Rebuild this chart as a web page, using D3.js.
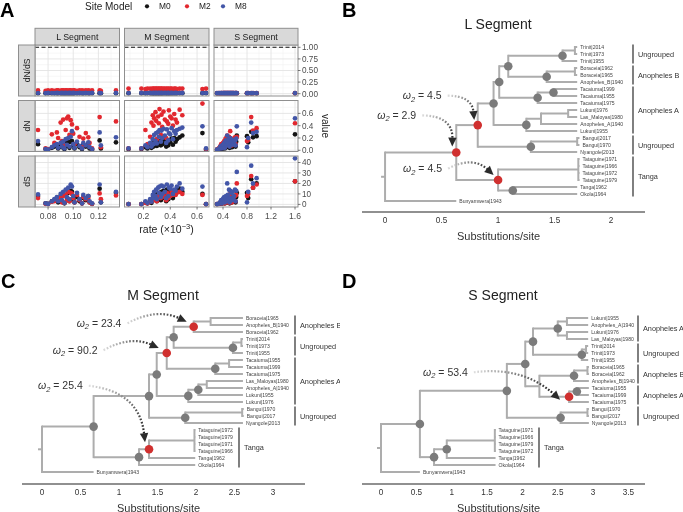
<!DOCTYPE html>
<html>
<head>
<meta charset="utf-8">
<script src="https://cdn.jsdelivr.net/npm/d3@7/dist/d3.min.js"></script>
<style>
html,body{margin:0;padding:0;background:#fff;}
svg{display:block;will-change:transform;}
text{font-family:"Liberation Sans",Arial,Helvetica,sans-serif;-webkit-font-smoothing:antialiased;}
</style>
</head>
<body>
<svg id="chart" width="683" height="512"></svg>
<script>
// ================= PANEL A DATA =================
const segments = ["L Segment", "M Segment", "S Segment"];
const measures = ["dN/dS", "dN", "dS"];
const siteModels = ["M0", "M2", "M8"];

const L_rate   = [0.072,0.078,0.080,0.083,0.085,0.087,0.088,0.090,0.091,0.092,0.093,0.094,0.095,0.096,0.097,0.098,0.099,0.100,0.101,0.103,0.105,0.107,0.108,0.110,0.112,0.113,0.115,0.121,0.122,0.134];
const L_dN_M0  = [0.10,0.02,0.01,0.04,0.06,0.08,0.03,0.09,0.05,0.11,0.02,0.12,0.07,0.13,0.04,0.14,0.15,0.08,0.03,0.10,0.05,0.02,0.09,0.06,0.11,0.03,0.01,0.16,0.03,0.13];
const L_dN_M2  = [0.33,0.03,0.02,0.26,0.12,0.29,0.20,0.45,0.15,0.50,0.08,0.33,0.52,0.55,0.25,0.49,0.42,0.27,0.10,0.36,0.22,0.05,0.19,0.28,0.21,0.12,0.03,0.54,0.05,0.47];
const L_dN_M8  = [0.15,0.02,0.01,0.05,0.08,0.10,0.04,0.12,0.06,0.14,0.03,0.18,0.09,0.20,0.06,0.22,0.31,0.10,0.04,0.14,0.07,0.03,0.12,0.08,0.13,0.05,0.02,0.29,0.08,0.21];
const L_dS_M0  = [8,1,0.5,3,4,6,2,8,3,10,1,9,6,11,3,13,12,5,2,7,3,1,6,4,8,2,0.5,15,2,11];
const L_dS_M2  = [6,0.5,0.3,2.5,3,5,4,7,2,8,1.5,9,4,12,3,11,10,6,2,9,4,1,7,5,6,2,0.5,10.5,5,8.6];
const L_dS_M8  = [9.5,1,0.4,3,5,7,3,10,4,12,1.5,14,7,16,5,19,17,8,2,11,5,1,9,6,8,3,1,19,2,12];
const L_dNdS_M0 = [0.012,0.010,0.011,0.012,0.010,0.011,0.012,0.010,0.011,0.012,0.010,0.011,0.012,0.010,0.011,0.012,0.010,0.011,0.012,0.010,0.011,0.012,0.010,0.011,0.012,0.010,0.011,0.012,0.010,0.011];
const L_dNdS_M2 = [0.07,0.06,0.07,0.07,0.06,0.07,0.07,0.06,0.07,0.07,0.06,0.07,0.07,0.06,0.07,0.07,0.06,0.07,0.07,0.06,0.07,0.07,0.06,0.07,0.07,0.06,0.07,0.07,0.06,0.07];
const L_dNdS_M8 = [0.015,0.014,0.016,0.015,0.014,0.016,0.015,0.014,0.016,0.015,0.014,0.016,0.015,0.014,0.016,0.015,0.014,0.016,0.015,0.014,0.016,0.015,0.014,0.016,0.015,0.014,0.016,0.015,0.014,0.016];

const M_rate   = [0.089,0.185,0.215,0.23,0.25,0.26,0.27,0.275,0.28,0.29,0.295,0.30,0.31,0.315,0.32,0.33,0.335,0.34,0.35,0.36,0.37,0.375,0.385,0.39,0.40,0.41,0.42,0.43,0.44,0.45,0.47,0.49,0.64,0.667];
const M_dN_M0  = [0.02,0.02,0.05,0.03,0.08,0.04,0.10,0.06,0.12,0.09,0.13,0.07,0.15,0.11,0.14,0.08,0.16,0.10,0.18,0.12,0.06,0.17,0.08,0.15,0.13,0.19,0.09,0.20,0.14,0.18,0.21,0.24,0.28,0.01];
const M_dN_M2  = [0.03,0.03,0.33,0.10,0.22,0.45,0.57,0.40,0.52,0.62,0.48,0.18,0.55,0.44,0.67,0.25,0.58,0.38,0.63,0.50,0.20,0.47,0.43,0.65,0.55,0.52,0.40,0.59,0.50,0.45,0.66,0.57,0.76,0.02];
const M_dN_M8  = [0.03,0.03,0.08,0.05,0.12,0.06,0.18,0.10,0.25,0.15,0.28,0.11,0.30,0.22,0.33,0.14,0.32,0.20,0.35,0.24,0.12,0.34,0.16,0.28,0.26,0.36,0.18,0.31,0.27,0.33,0.35,0.37,0.39,0.03];
const M_dS_M0  = [0.3,0.3,2,1,3,1.5,6,4,8,5,9,3,10,7,11,4,12,6,13,8,3,14,5,11,9,13,6,12,10,14,15,12,10,0.2];
const M_dS_M2  = [0.2,0.2,1.5,1,2.5,3,5,4,6,5,7,3,8,6,7,6,9,8,10,7,4,11,6,9,8,12,9,10,9,11,12,10,9,0.2];
const M_dS_M8  = [0.3,0.3,3,1.5,5,2.5,9,6,12,8,14,5,16,11,17,7,18,10,17,12,6,19,8,16,15,18,10,14,13,17,20,15,17,0.3];
const M_dNdS_M0 = [0.012,0.011,0.012,0.013,0.011,0.012,0.012,0.011,0.012,0.013,0.011,0.012,0.012,0.011,0.012,0.013,0.011,0.012,0.012,0.011,0.012,0.013,0.011,0.012,0.012,0.011,0.012,0.013,0.011,0.012,0.012,0.011,0.012,0.013];
const M_dNdS_M2 = [0.11,0.11,0.10,0.11,0.11,0.10,0.11,0.11,0.10,0.11,0.11,0.10,0.11,0.11,0.10,0.11,0.11,0.10,0.11,0.11,0.10,0.11,0.11,0.10,0.11,0.11,0.10,0.11,0.11,0.10,0.11,0.11,0.10,0.11];
const M_dNdS_M8 = [0.015,0.016,0.014,0.015,0.016,0.014,0.015,0.016,0.014,0.015,0.016,0.014,0.015,0.016,0.014,0.015,0.016,0.014,0.015,0.016,0.014,0.015,0.016,0.014,0.015,0.016,0.014,0.015,0.016,0.014,0.015,0.016,0.014,0.015];

const S_rate   = [0.30,0.33,0.35,0.37,0.38,0.40,0.41,0.42,0.43,0.44,0.45,0.46,0.47,0.48,0.49,0.50,0.51,0.52,0.53,0.54,0.55,0.56,0.57,0.58,0.60,0.61,0.62,0.63,0.80,0.82,0.87,0.90,0.96,1.60];
const S_dN_M0  = [0.01,0.02,0.03,0.05,0.02,0.06,0.04,0.08,0.03,0.07,0.10,0.05,0.12,0.09,0.06,0.11,0.04,0.13,0.08,0.10,0.05,0.12,0.07,0.09,0.11,0.06,0.14,0.24,0.23,0.13,0.30,0.21,0.23,0.26];
const S_dN_M2  = [0.01,0.03,0.06,0.10,0.04,0.12,0.08,0.15,0.05,0.18,0.20,0.11,0.24,0.17,0.09,0.22,0.07,0.31,0.14,0.19,0.08,0.16,0.12,0.18,0.21,0.10,0.20,0.22,0.15,0.17,0.54,0.32,0.36,0.44];
const S_dN_M8  = [0.01,0.02,0.05,0.07,0.03,0.09,0.10,0.12,0.04,0.14,0.16,0.08,0.24,0.13,0.11,0.18,0.06,0.20,0.12,0.15,0.09,0.17,0.10,0.14,0.16,0.08,0.19,0.39,0.05,0.20,0.45,0.28,0.30,0.52];
const S_dS_M0  = [0.3,0.5,1,2,0.8,3,1.5,4,1,3,5,2,6,4,2,5,1,7,3,5,2,6,3,4,6,2,7,11,11,6,24,16,20,22];
const S_dS_M2  = [0.3,0.5,1.5,3,1,2,2.5,4,1,5,4,3,8,6,2,7,1.5,10,4,6,2,5,3,7,8,3,9,20,8,10,27,16,19,22];
const S_dS_M8  = [0.3,0.6,2,4,1,5,6,7,2,6,8,3,20,9,5,14,2,13,6,11,4,12,5,8,14,3,13,31,2,12,37,20,25,44];
const S_dNdS_M0 = [0.008,0.009,0.008,0.009,0.008,0.009,0.008,0.009,0.008,0.009,0.008,0.009,0.008,0.009,0.008,0.009,0.008,0.009,0.008,0.009,0.008,0.009,0.008,0.009,0.008,0.009,0.008,0.009,0.008,0.009,0.008,0.009,0.008,0.009];
const S_dNdS_M2 = [0.011,0.012,0.011,0.012,0.011,0.012,0.011,0.012,0.011,0.012,0.011,0.012,0.011,0.012,0.011,0.012,0.011,0.012,0.011,0.012,0.011,0.012,0.011,0.012,0.011,0.012,0.011,0.012,0.011,0.012,0.011,0.012,0.011,0.012];
const S_dNdS_M8 = [0.012,0.013,0.012,0.013,0.012,0.013,0.012,0.013,0.012,0.013,0.012,0.013,0.012,0.013,0.012,0.013,0.012,0.013,0.012,0.013,0.012,0.013,0.012,0.013,0.012,0.013,0.012,0.013,0.012,0.013,0.012,0.013,0.012,0.013];

const xTicksA = [[0.08,0.10,0.12],[0.2,0.4,0.6],[0.4,0.8,1.2,1.6]];
const xMinorA = [[0.07,0.09,0.11,0.13],[0.1,0.3,0.5],[0.6,1.0,1.4]];
const yTicksA = [[0,0.25,0.5,0.75,1],[0,0.2,0.4,0.6],[0,10,20,30,40]];
const yMinorA = [[0.125,0.375,0.625,0.875],[0.1,0.3,0.5,0.7],[5,15,25,35,45]];

// ================= TREE DATA =================
const treeL_ids = ["root","a1","a2","a3","a4","a5","a6","a6s","Trinit|2014","Trinit|1973","Trinit|1955","a7","a7s","Boraceia|1962","Boraceia|1965","Anopheles_B|1940","a8","a8s","Tacaiuma|1999","Tacaiuma|1955","Tacaiuma|1975","a9","a9s","a9t","Lukuni|1976","Las_Maloyas|1980","Anopheles_A|1940","Lukuni|1955","a10","a10s","Bangui|2017","Bangui|1970","Nyangole|2013","a11","a11s","Tataguine|1971","Tataguine|1966","Tataguine|1972","Tataguine|1979","a12","Tanga|1962","Okola|1964","Bunyamwera|1943"];
const treeL_parents = ["","root","a1","a2","a3","a4","a5","a6","a6s","a6s","a6","a5","a7","a7s","a7s","a7","a4","a8","a8s","a8s","a8","a3","a9","a9s","a9t","a9t","a9s","a9","a2","a10","a10s","a10s","a10","a1","a11","a11s","a11s","a11s","a11s","a11","a12","a12","root"];
const treeL_dists = [0,0.63,0.82,0.96,1.01,1.09,1.57,1.68,1.70,1.70,1.70,1.43,1.68,1.70,1.70,1.70,1.35,1.49,1.70,1.70,1.70,1.25,1.38,1.62,1.70,1.70,1.70,1.70,1.29,1.70,1.72,1.72,1.70,1.00,1.71,1.72,1.72,1.72,1.72,1.13,1.70,1.70,0.63];
const treeL_gray = ["a3","a4","a5","a6","a7","a8","a8s","a9","a10","a12"];
const treeL_red = ["a1","a2","a11"];
const treeL_groups = ["Ungrouped","Anopheles B","Anopheles A","Ungrouped","Tanga"];
const treeL_groupFrom = ["Trinit|2014","Boraceia|1962","Tacaiuma|1999","Bangui|2017","Tataguine|1971"];
const treeL_groupTo = ["Trinit|1955","Anopheles_B|1940","Lukuni|1955","Nyangole|2013","Okola|1964"];
const treeL_omegaNodes = ["a2","a1","a11"];
const treeL_omega = ["4.5","2.9","4.5"];

const treeM_ids = ["root","m1","m2","m3","m4","m5","m6","m6s","Boraceia|1965","Anopheles_B|1940","Boraceia|1962","m7","m7s","Trinit|2014","Trinit|1973","Trinit|1955","m8","m8s","Tacaiuma|1955","Tacaiuma|1999","Tacaiuma|1975","m9","m10","m10s","Las_Maloyas|1980","Anopheles_A|1940","Lukuni|1955","Lukuni|1976","m11","m11s","Bangui|1970","Bangui|2017","Nyangole|2013","m12","m13","m13s","Tataguine|1972","Tataguine|1979","Tataguine|1971","Tataguine|1966","Tanga|1962","Okola|1964","Bunyamwera|1943"];
const treeM_parents = ["","root","m1","m2","m3","m4","m5","m6","m6s","m6s","m6","m5","m7","m7s","m7s","m7","m4","m8","m8s","m8s","m8","m3","m9","m10","m10s","m10s","m10","m9","m2","m11","m11s","m11s","m11","m1","m12","m13","m13s","m13s","m13s","m13s","m13","m12","root"];
const treeM_dists = [0,0.67,1.39,1.49,1.62,1.71,1.97,2.19,2.61,2.61,2.61,2.48,2.59,2.61,2.61,2.61,2.25,2.43,2.61,2.61,2.61,1.90,2.03,2.14,2.61,2.61,2.61,2.61,1.86,2.60,2.62,2.62,2.61,1.26,1.39,1.98,1.99,1.99,1.99,1.99,1.99,1.99,0.67];
const treeM_gray = ["m1","m2","m3","m5","m7","m8","m9","m10","m11","m12"];
const treeM_red = ["m4","m6","m13"];
const treeM_groups = ["Anopheles B","Ungrouped","Anopheles A","Ungrouped","Tanga"];
const treeM_groupFrom = ["Boraceia|1965","Trinit|2014","Tacaiuma|1955","Bangui|1970","Tataguine|1972"];
const treeM_groupTo = ["Boraceia|1962","Trinit|1955","Lukuni|1976","Nyangole|2013","Okola|1964"];
const treeM_omegaNodes = ["m6","m4","m13"];
const treeM_omega = ["23.4","90.2","25.4"];

const treeS_ids = ["root","s1","s2","s3","s4","s5","s5a","Lukuni|1955","Anopheles_A|1940","s5b","Lukuni|1976","Las_Maloyas|1980","s6","s6s","Trinit|2014","Trinit|1973","Trinit|1955","s7","s8","s8s","Boraceia|1965","Boraceia|1962","Anopheles_B|1940","s9","s10","Tacaiuma|1955","Tacaiuma|1999","Tacaiuma|1975","s11","s11s","Bangui|1970","Bangui|2017","Nyangole|2013","s12","s13","s13s","Tataguine|1971","Tataguine|1966","Tataguine|1979","Tataguine|1972","Tanga|1962","Okola|1964","Bunyamwera|1943"];
const treeS_parents = ["","root","s1","s2","s3","s4","s5","s5a","s5a","s5","s5b","s5b","s4","s6","s6s","s6s","s6","s3","s7","s8","s8s","s8s","s8","s7","s9","s10","s10","s9","s2","s11","s11s","s11s","s11","s1","s12","s13","s13s","s13s","s13s","s13s","s13","s12","root"];
const treeS_dists = [0,0.55,1.78,2.04,2.15,2.50,2.63,2.93,2.93,2.63,2.93,2.93,2.84,2.90,2.93,2.93,2.93,2.24,2.73,2.92,2.94,2.94,2.94,2.66,2.77,2.94,2.94,2.94,2.54,2.92,2.94,2.94,2.94,0.75,0.93,1.61,1.62,1.62,1.62,1.62,1.62,1.62,0.55];
const treeS_gray = ["s1","s2","s3","s4","s5","s6","s8","s10","s11","s12","s13"];
const treeS_red = ["s9"];
const treeS_groups = ["Anopheles A","Ungrouped","Anopheles B","Anopheles A","Ungrouped","Tanga"];
const treeS_groupFrom = ["Lukuni|1955","Trinit|2014","Boraceia|1965","Tacaiuma|1955","Bangui|1970","Tataguine|1971"];
const treeS_groupTo = ["Las_Maloyas|1980","Trinit|1955","Anopheles_B|1940","Tacaiuma|1975","Nyangole|2013","Okola|1964"];
const treeS_omegaNodes = ["s9"];
const treeS_omega = ["53.4"];

// ================= STYLE / LAYOUT =================
const modelColor = {M0: "#141414", M2: "#e2282f", M8: "#4356a8"};
const svg = d3.select("#chart");

// ---------- Panel A ----------
const segData = [
  {rate: L_rate, vals: [[L_dNdS_M0,L_dNdS_M2,L_dNdS_M8],[L_dN_M0,L_dN_M2,L_dN_M8],[L_dS_M0,L_dS_M2,L_dS_M8]]},
  {rate: M_rate, vals: [[M_dNdS_M0,M_dNdS_M2,M_dNdS_M8],[M_dN_M0,M_dN_M2,M_dN_M8],[M_dS_M0,M_dS_M2,M_dS_M8]]},
  {rate: S_rate, vals: [[S_dNdS_M0,S_dNdS_M2,S_dNdS_M8],[S_dN_M0,S_dN_M2,S_dN_M8],[S_dS_M0,S_dS_M2,S_dS_M8]]}
];
const colX = [[35,119.5],[124.5,209],[214,298]];
const rowY = [[45,96],[100.5,151.5],[156,207]];
const xDomA = [[0.0696,0.1368],[0.059,0.689],[0.25,1.65]];
const yDomA = [[-0.05,1.05],[-0.02,0.81],[-2.5,46.2]];
const xFmtA = [d3.format(".2f"), d3.format(".1f"), d3.format(".1f")];
const yFmtA = [d3.format(".2f"), d3.format(".1f"), d3.format("d")];
const xS = colX.map((r,i)=>d3.scaleLinear().domain(xDomA[i]).range(r));
const yS = rowY.map((r,i)=>d3.scaleLinear().domain(yDomA[i]).range([r[1], r[0]]));

const gA = svg.append("g");
gA.append("text").attr("x",0).attr("y",16.5).attr("font-size",20).attr("font-weight","bold").text("A");
// legend
const leg = gA.append("g");
leg.append("text").attr("x",85).attr("y",9.5).attr("font-size",10).attr("fill","#222").text("Site Model");
const legX = [147,187,223];
siteModels.forEach((m,i)=>{
  leg.append("circle").attr("cx",legX[i]).attr("cy",6.3).attr("r",2.1).attr("fill",modelColor[m]);
  leg.append("text").attr("x",legX[i]+12).attr("y",9.3).attr("font-size",8.4).attr("fill","#222").text(m);
});

for (let r=0;r<3;r++){
  for (let c=0;c<3;c++){
    const g = gA.append("g");
    const [x0,x1] = colX[c], [y0,y1] = rowY[r];
    g.append("rect").attr("x",x0).attr("y",y0).attr("width",x1-x0).attr("height",y1-y0).attr("fill","#fff");
    g.selectAll(".vmin").data(xMinorA[c].filter(v=>xS[c](v)>x0&&xS[c](v)<x1)).join("line")
      .attr("x1",d=>xS[c](d)).attr("x2",d=>xS[c](d)).attr("y1",y0).attr("y2",y1).attr("stroke","#f1f1f1").attr("stroke-width",0.6);
    g.selectAll(".hmin").data(yMinorA[r].filter(v=>yS[r](v)>y0&&yS[r](v)<y1)).join("line")
      .attr("y1",d=>yS[r](d)).attr("y2",d=>yS[r](d)).attr("x1",x0).attr("x2",x1).attr("stroke","#f1f1f1").attr("stroke-width",0.6);
    g.selectAll(".vmaj").data(xTicksA[c]).join("line")
      .attr("x1",d=>xS[c](d)).attr("x2",d=>xS[c](d)).attr("y1",y0).attr("y2",y1).attr("stroke","#e3e3e3").attr("stroke-width",0.9);
    g.selectAll(".hmaj").data(yTicksA[r]).join("line")
      .attr("y1",d=>yS[r](d)).attr("y2",d=>yS[r](d)).attr("x1",x0).attr("x2",x1).attr("stroke","#e3e3e3").attr("stroke-width",0.9);
    if (r===0){
      g.append("line").attr("x1",x0).attr("x2",x1).attr("y1",yS[0](1)).attr("y2",yS[0](1))
        .attr("stroke","#111").attr("stroke-width",1.1).attr("stroke-dasharray","4,2.5");
    }
    const sd = segData[c];
    siteModels.forEach((m,mi)=>{
      const vals = sd.vals[r][mi];
      g.selectAll(".p"+m).data(sd.rate.map((x,i)=>[x,vals[i]])).join("circle")
        .attr("cx",d=>xS[c](d[0])).attr("cy",d=>yS[r](d[1])).attr("r",2.35).attr("fill",modelColor[m]);
    });
    g.append("rect").attr("x",x0).attr("y",y0).attr("width",x1-x0).attr("height",y1-y0)
      .attr("fill","none").attr("stroke","#8f8f8f").attr("stroke-width",1);
  }
}
// top strips
segments.forEach((s,c)=>{
  const [x0,x1] = colX[c];
  gA.append("rect").attr("x",x0).attr("y",28.3).attr("width",x1-x0).attr("height",16.7)
    .attr("fill","#d9d9d9").attr("stroke","#8f8f8f").attr("stroke-width",1);
  gA.append("text").attr("x",(x0+x1)/2).attr("y",39.8).attr("text-anchor","middle")
    .attr("font-size",8.8).attr("fill","#1a1a1a").text(s);
});
// left strips
measures.forEach((s,r)=>{
  const [y0,y1] = rowY[r];
  gA.append("rect").attr("x",18.5).attr("y",y0).attr("width",16.5).attr("height",y1-y0)
    .attr("fill","#d9d9d9").attr("stroke","#8f8f8f").attr("stroke-width",1);
  gA.append("text").attr("transform",`translate(${29.8},${(y0+y1)/2}) rotate(-90)`)
    .attr("text-anchor","middle").attr("font-size",8.5).attr("fill","#1a1a1a").text(s);
});
// right y axes
measures.forEach((s,r)=>{
  const xr = colX[2][1];
  yTicksA[r].forEach(v=>{
    gA.append("line").attr("x1",xr).attr("x2",xr+2.5).attr("y1",yS[r](v)).attr("y2",yS[r](v)).attr("stroke","#555").attr("stroke-width",0.8);
    gA.append("text").attr("x",xr+4).attr("y",yS[r](v)+2.9).attr("font-size",8.2).attr("fill","#4d4d4d").text(yFmtA[r](v));
  });
});
gA.append("text").attr("transform","translate(322,126) rotate(90)").attr("text-anchor","middle")
  .attr("font-size",10).attr("fill","#222").text("value");
// bottom x axes
segments.forEach((s,c)=>{
  const yb = rowY[2][1];
  xTicksA[c].forEach(v=>{
    gA.append("line").attr("x1",xS[c](v)).attr("x2",xS[c](v)).attr("y1",yb).attr("y2",yb+2.5).attr("stroke","#555").attr("stroke-width",0.8);
    gA.append("text").attr("x",xS[c](v)).attr("y",yb+11.5).attr("text-anchor","middle").attr("font-size",8.6).attr("fill","#4d4d4d").text(xFmtA[c](v));
  });
});
const rl = gA.append("text").attr("x",166.5).attr("y",233).attr("text-anchor","middle").attr("font-size",10.5).attr("fill","#222");
rl.append("tspan").text("rate (\u00d710");
rl.append("tspan").attr("dy",-4).attr("font-size",7.5).text("\u22123");
rl.append("tspan").attr("dy",4).text(")");

// ---------- Trees ----------
const treeSpecs = [
  {ids: treeL_ids, parents: treeL_parents, dists: treeL_dists, gray: treeL_gray, red: treeL_red,
   groups: treeL_groups, gFrom: treeL_groupFrom, gTo: treeL_groupTo, omegaNodes: treeL_omegaNodes, omega: treeL_omega,
   title: "L Segment", letter: "B", ticks: [0,0.5,1,1.5,2]},
  {ids: treeM_ids, parents: treeM_parents, dists: treeM_dists, gray: treeM_gray, red: treeM_red,
   groups: treeM_groups, gFrom: treeM_groupFrom, gTo: treeM_groupTo, omegaNodes: treeM_omegaNodes, omega: treeM_omega,
   title: "M Segment", letter: "C", ticks: [0,0.5,1,1.5,2,2.5,3]},
  {ids: treeS_ids, parents: treeS_parents, dists: treeS_dists, gray: treeS_gray, red: treeS_red,
   groups: treeS_groups, gFrom: treeS_groupFrom, gTo: treeS_groupTo, omegaNodes: treeS_omegaNodes, omega: treeS_omega,
   title: "S Segment", letter: "D", ticks: [0,0.5,1,1.5,2,2.5,3,3.5]}
];
const treeLayouts = [
  {xDomain: [-0.204,2.30], xRange: [362,645], yRange: [47,201], axisY: 212, titleX: 498, titleY: 28.5, letterX: 342, letterY: 16.5,
   barX: [633,633,633,633,633], clip: null,
   omegaLay: [{dx:-75,dy:-26,tx:-3.5,ty:-5,k:0.45},{dx:-79,dy:-33.7,tx:-4,ty:-6,k:0.5},{dx:-95,dy:-8,tx:-4.5,ty:-5,k:0.35}]},
  {xDomain: [-0.26,3.416], xRange: [22,305], yRange: [318,472], axisY: 484, titleX: 163, titleY: 300, letterX: 1, letterY: 288,
   barX: [295,295,295,295,239], clip: [0,255,340,257],
   omegaLay: [{dx:-117,dy:0,tx:-7,ty:-5,k:0.25},{dx:-114,dy:0.7,tx:-8,ty:-5,k:0.25},{dx:-111,dy:-60,tx:-4,ty:-7,k:0.4}]},
  {xDomain: [-0.269,3.734], xRange: [362,645], yRange: [318,472], axisY: 484, titleX: 503, titleY: 300, letterX: 342, letterY: 288,
   barX: [638,638,638,638,638,539], clip: null,
   omegaLay: [{dx:-146,dy:-21,tx:-9,ty:3,k:0.23}]}
];

const defs = svg.append("defs");
treeSpecs.forEach((spec, ti)=>{
  const lay = treeLayouts[ti];
  let g = svg.append("g");
  if (lay.clip){
    defs.append("clipPath").attr("id","clip"+ti).append("rect")
      .attr("x",lay.clip[0]).attr("y",lay.clip[1]).attr("width",lay.clip[2]).attr("height",lay.clip[3]);
    g.attr("clip-path",`url(#clip${ti})`);
  }
  const rows = spec.ids.map((id,i)=>({id, parent: spec.parents[i] || null, dist: spec.dists[i]}));
  const root = d3.stratify().id(d=>d.id).parentId(d=>d.parent)(rows);
  const x = d3.scaleLinear().domain(lay.xDomain).range(lay.xRange);
  const leaves = root.leaves();
  const y = d3.scaleLinear().domain([0, leaves.length-1]).range(lay.yRange);
  leaves.forEach((l,i)=>{ l.yi = i; });
  root.eachAfter(n=>{ if (n.children) n.yi = d3.mean(n.children, c=>c.yi); });
  root.each(n=>{ n.px = x(n.data.dist); n.py = y(n.yi); });
  const byId = new Map(root.descendants().map(n=>[n.id, n]));

  g.append("text").attr("x",lay.letterX).attr("y",lay.letterY).attr("font-size",20).attr("font-weight","bold").text(spec.letter);
  g.append("text").attr("x",lay.titleX).attr("y",lay.titleY).attr("text-anchor","middle").attr("font-size",14).attr("fill","#222").text(spec.title);

  const edgeG = g.append("g").attr("stroke","#adadad").attr("stroke-width",2).attr("fill","none");
  edgeG.append("path").attr("d",`M${root.px-4},${root.py}H${root.px}`);
  edgeG.selectAll(".h").data(root.descendants().filter(n=>n.parent)).join("path")
    .attr("d",n=>`M${n.parent.px},${n.py}H${n.px}`);
  edgeG.selectAll(".v").data(root.descendants().filter(n=>n.children)).join("path")
    .attr("stroke-linecap","square")
    .attr("d",n=>`M${n.px},${d3.min(n.children,c=>c.py)}V${d3.max(n.children,c=>c.py)}`);

  g.selectAll(".leaf").data(leaves).join("text")
    .attr("x",n=>n.px+3).attr("y",n=>n.py+1.8).attr("font-size",5.1).attr("fill","#444").text(n=>n.id);

  g.selectAll(".gn").data(spec.gray.map(id=>byId.get(id))).join("circle")
    .attr("cx",n=>n.px).attr("cy",n=>n.py).attr("r",4.3).attr("fill","#7b7b7b");
  g.selectAll(".rn").data(spec.red.map(id=>byId.get(id))).join("circle")
    .attr("cx",n=>n.px).attr("cy",n=>n.py).attr("r",4.3).attr("fill","#d0302f");

  spec.groups.forEach((name,i)=>{
    const a = byId.get(spec.gFrom[i]), b = byId.get(spec.gTo[i]);
    const bx = lay.barX[i];
    g.append("line").attr("x1",bx).attr("x2",bx).attr("y1",a.py-2.5).attr("y2",b.py+2.5).attr("stroke","#2a2a2a").attr("stroke-width",1.2);
    g.append("text").attr("x",bx+5).attr("y",(a.py+b.py)/2+2.6).attr("font-size",7.3).attr("fill","#333").text(name);
  });

  g.append("line").attr("x1",lay.xRange[0]).attr("x2",lay.xRange[1]).attr("y1",lay.axisY).attr("y2",lay.axisY).attr("stroke","#222").attr("stroke-width",1.2);
  g.selectAll(".tk").data(spec.ticks).join("text")
    .attr("x",d=>x(d)).attr("y",lay.axisY+11).attr("text-anchor","middle").attr("font-size",8.2).attr("fill","#333")
    .text(d=>d3.format("~g")(d));
  g.append("text").attr("x",(lay.xRange[0]+lay.xRange[1])/2 - 5).attr("y",lay.axisY+27.5).attr("text-anchor","middle")
    .attr("font-size",11).attr("fill","#333").text("Substitutions/site");

  spec.omegaNodes.forEach((id,i)=>{
    const n = byId.get(id), o = lay.omegaLay[i];
    const lx = n.px + o.dx, ly = n.py + o.dy;
    const t = g.append("text").attr("x",lx).attr("y",ly).attr("font-size",10.5).attr("fill","#333");
    t.append("tspan").attr("font-style","italic").text("\u03c9");
    t.append("tspan").attr("font-style","italic").attr("font-size",7.5).attr("dy",2.5).text("2");
    t.append("tspan").attr("dy",-2.5).text(" = " + spec.omega[i]);
    const w = t.node().getComputedTextLength();
    const sx = lx + w + 6, sy = ly - 3.5;
    const tx = n.px + o.tx, ty = n.py + o.ty;
    const mx = (sx+tx)/2, my = (sy+ty)/2, ddx = tx-sx, ddy = ty-sy;
    const cx = mx + o.k*ddy, cy = my - o.k*ddx;
    let ux = tx-cx, uy = ty-cy; const ul = Math.hypot(ux,uy); ux/=ul; uy/=ul;
    const L = 9, W = 4.2;
    const bx = tx-ux*L, by = ty-uy*L;
    const gid = `grad${ti}_${i}`;
    defs.append("linearGradient").attr("id",gid).attr("gradientUnits","userSpaceOnUse")
      .attr("x1",sx).attr("y1",sy).attr("x2",tx).attr("y2",ty)
      .call(lg=>{ lg.append("stop").attr("offset","0%").attr("stop-color","#dedede");
                  lg.append("stop").attr("offset","100%").attr("stop-color","#111"); });
    g.append("path").attr("d",`M${sx},${sy}Q${cx},${cy} ${bx+ux*1},${by+uy*1}`)
      .attr("fill","none").attr("stroke",`url(#${gid})`).attr("stroke-width",2.2).attr("stroke-dasharray","1.7,1.7");
    g.append("path").attr("d",`M${tx},${ty}L${bx-uy*W},${by+ux*W}L${bx+uy*W},${by-ux*W}Z`).attr("fill","#2b2b2b");
  });
});
</script>
</body>
</html>
